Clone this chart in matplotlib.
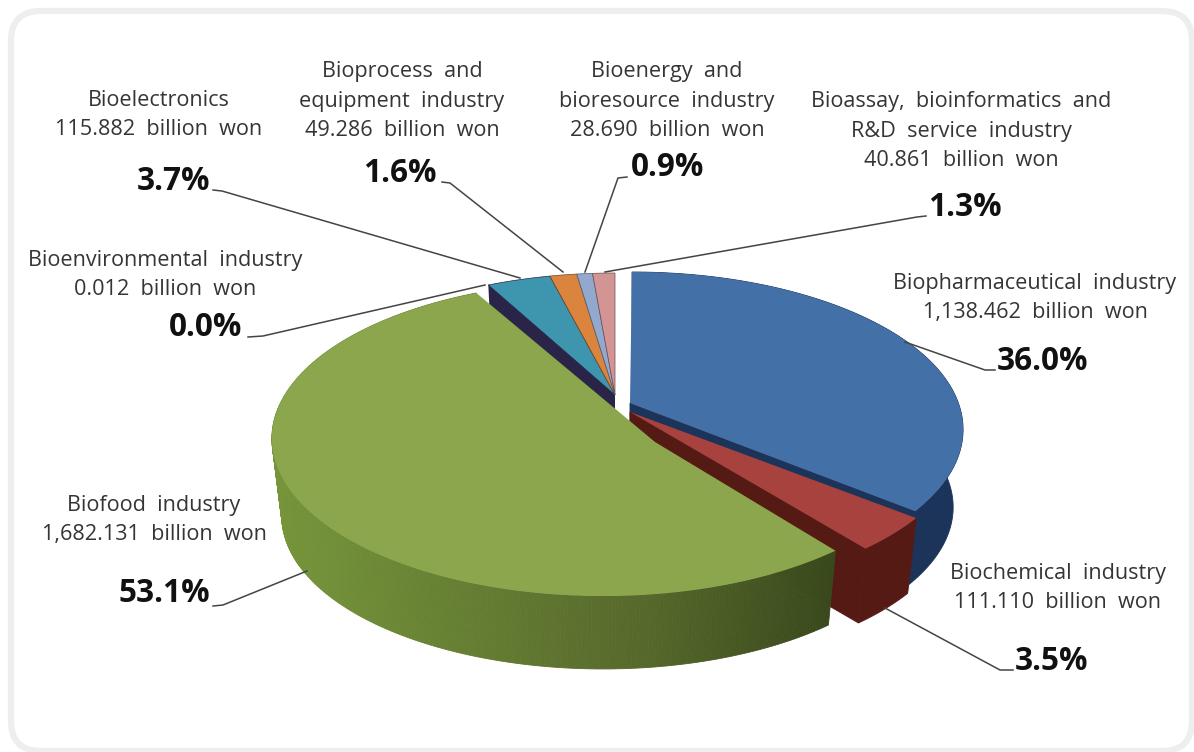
#!/usr/bin/env python
#-*- coding: utf-8 -*-
import numpy as np
import matplotlib
matplotlib.use('Agg')
import matplotlib.pyplot as plt
from matplotlib.colors import LinearSegmentedColormap
from matplotlib.patches import FancyBboxPatch

plt.rcParams['font.family'] = ['Open Sans', 'DejaVu Sans']

# billion won
names = [['Biopharmaceutical  industry'], ['Biochemical  industry'], ['Biofood  industry'],
         ['Bioenvironmental  industry'], ['Bioelectronics'],
         ['Bioprocess  and', 'equipment  industry'], ['Bioenergy  and', 'bioresource  industry'],
         ['Bioassay,  bioinformatics  and', 'R&D  service  industry']]
values = [1138.462, 111.110, 1682.131, 0.012, 115.882, 49.286, 28.690, 40.861]
value_labels = ['1,138.462', '111.110', '1,682.131', '0.012', '115.882', '49.286', '28.690', '40.861']
percents = ['36.0%', '3.5%', '53.1%', '0.0%', '3.7%', '1.6%', '0.9%', '1.3%']

top_colors = ['#4470a8', '#a8423f', '#8ba64c', '#3d3560', '#3d96ae', '#db843d', '#92a8cd', '#d39593']
wall_colors = ['#1c3459', '#561a14', '#39491c', '#2a2448', '#2a2448', '#6e4420', '#4a5a78', '#6a4a4a']

# geometry of the perspective disk, pixels
A, B, K = 326.0, 152.7, 0.1746
DEPTH, SHRINK = 78.5, 0.97
# arc centre and apex for each slice, pixels
centers = [(632, 402), (633, 409), (603, 411), (615, 403), (615, 403), (615, 403), (615, 403), (615, 403)]
apexes = [(630, 403), (630, 412), (655, 442), (615, 395), (615, 395), (615, 395), (615, 395), (615, 395)]

label_pos = [(1035, 298), (1058, 588), (154, 520), (165, 275), (159, 115), (402, 101), (667, 101), (961, 131)]
pct_pos = [(1043, 361), (1052, 661), (164, 594), (206, 328), (173, 182), (400, 173), (668, 168), (965, 208)]
leaders = [[(995, 370), (985, 370), (905, 342)],
           [(1013, 670), (1000, 670), (885, 608)],
           [(213, 606), (223, 605), (307, 571)],
           [(248, 337), (263, 336), (485, 285)],
           [(213, 190), (222, 191), (520, 278)],
           [(442, 182), (450, 183), (563, 272)],
           [(627, 177), (618, 178), (585, 272)],
           [(926, 216), (917, 217), (605, 272)]]


def rim(center, a0, a1, lower=False):
    t = np.radians(np.linspace(a0, a1, max(int(abs(a1 - a0) * 2), 2)))
    u, v = np.sin(t), np.cos(t)
    w = 1 + K * v
    x, y = A * u / w, -B * v / w
    if lower:
        return center[0] + x * SHRINK, center[1] + DEPTH + y * SHRINK
    return center[0] + x, center[1] + y


def face(center, apex, a0, a1):
    x, y = rim(center, a0, a1)
    return np.r_[apex[0], x], np.r_[apex[1], y]


def outer_wall(center, a0, a1):
    x0, y0 = rim(center, a0, a1)
    x1, y1 = rim(center, a0, a1, lower=True)
    return np.r_[x0, x1[::-1]], np.r_[y0, y1[::-1]]


def radial_wall(center, apex, a):
    x0, y0 = rim(center, a, a)
    x1, y1 = rim(center, a, a, lower=True)
    return [apex[0], x0[0], x1[0], apex[0]], [apex[1], y0[0], y1[0], apex[1] + DEPTH]


fig = plt.figure(figsize=(11.94, 7.52), dpi=100)
ax = fig.add_axes([0, 0, 1, 1])
ax.set_xlim(0, 1194)
ax.set_ylim(752, 0)
ax.axis('off')

ax.add_patch(FancyBboxPatch((32, 32), 1139, 698, boxstyle='round,pad=21,rounding_size=30',
                            fc='white', ec='#eeeeee', lw=4.5))

edges = np.r_[0, np.cumsum(values)] / np.sum(values) * 360

# small slices first, then blue, red, green on top
ax.fill(*radial_wall(centers[3], apexes[3], edges[3]), color=wall_colors[3], lw=0)
for i in [3, 4, 5, 6, 7]:
    ax.fill(*face(centers[i], apexes[i], edges[i], edges[i + 1]), fc=top_colors[i], ec=wall_colors[i], lw=0.5)

for i in [0, 1]:
    ax.fill(*outer_wall(centers[i], edges[i], edges[i + 1]), fc=wall_colors[i], ec=wall_colors[i], lw=0.6)
    ax.fill(*radial_wall(centers[i], apexes[i], edges[i + 1]), fc=wall_colors[i], ec=wall_colors[i], lw=0.6)
    ax.fill(*face(centers[i], apexes[i], edges[i], edges[i + 1]), color=top_colors[i], lw=0)

# green has the shaded front wall, drawn as thin quads left to right in colour
shade = LinearSegmentedColormap.from_list('shade', ['#76953a', '#667f33', '#56682b', '#39491c'])
gx0, gy0 = rim(centers[2], edges[2], edges[3])
gx1, gy1 = rim(centers[2], edges[2], edges[3], lower=True)
for j in range(len(gx0) - 1):
    c = shade((gx1[j] - gx1.min()) / (gx1.max() - gx1.min()))
    ax.fill([gx0[j], gx0[j + 1], gx1[j + 1], gx1[j]], [gy0[j], gy0[j + 1], gy1[j + 1], gy1[j]],
            fc=c, ec=c, lw=0.6)
ax.fill(*face(centers[2], apexes[2], edges[2], edges[3]), color=top_colors[2], lw=0)

for i in range(len(values)):
    lines = names[i] + [value_labels[i] + '  billion  won']
    ax.text(label_pos[i][0], label_pos[i][1], '\n'.join(lines), ha='center', va='center',
            fontsize=15.6, color='#353535', linespacing=1.5, zorder=5)
    ax.text(pct_pos[i][0], pct_pos[i][1], percents[i], ha='center', va='center',
            fontsize=22.7, fontweight='bold', color='#111111', zorder=5)
    ax.plot(*zip(*leaders[i]), color='#444444', lw=1.1, zorder=4)

fig.savefig('out.png', dpi=100)
